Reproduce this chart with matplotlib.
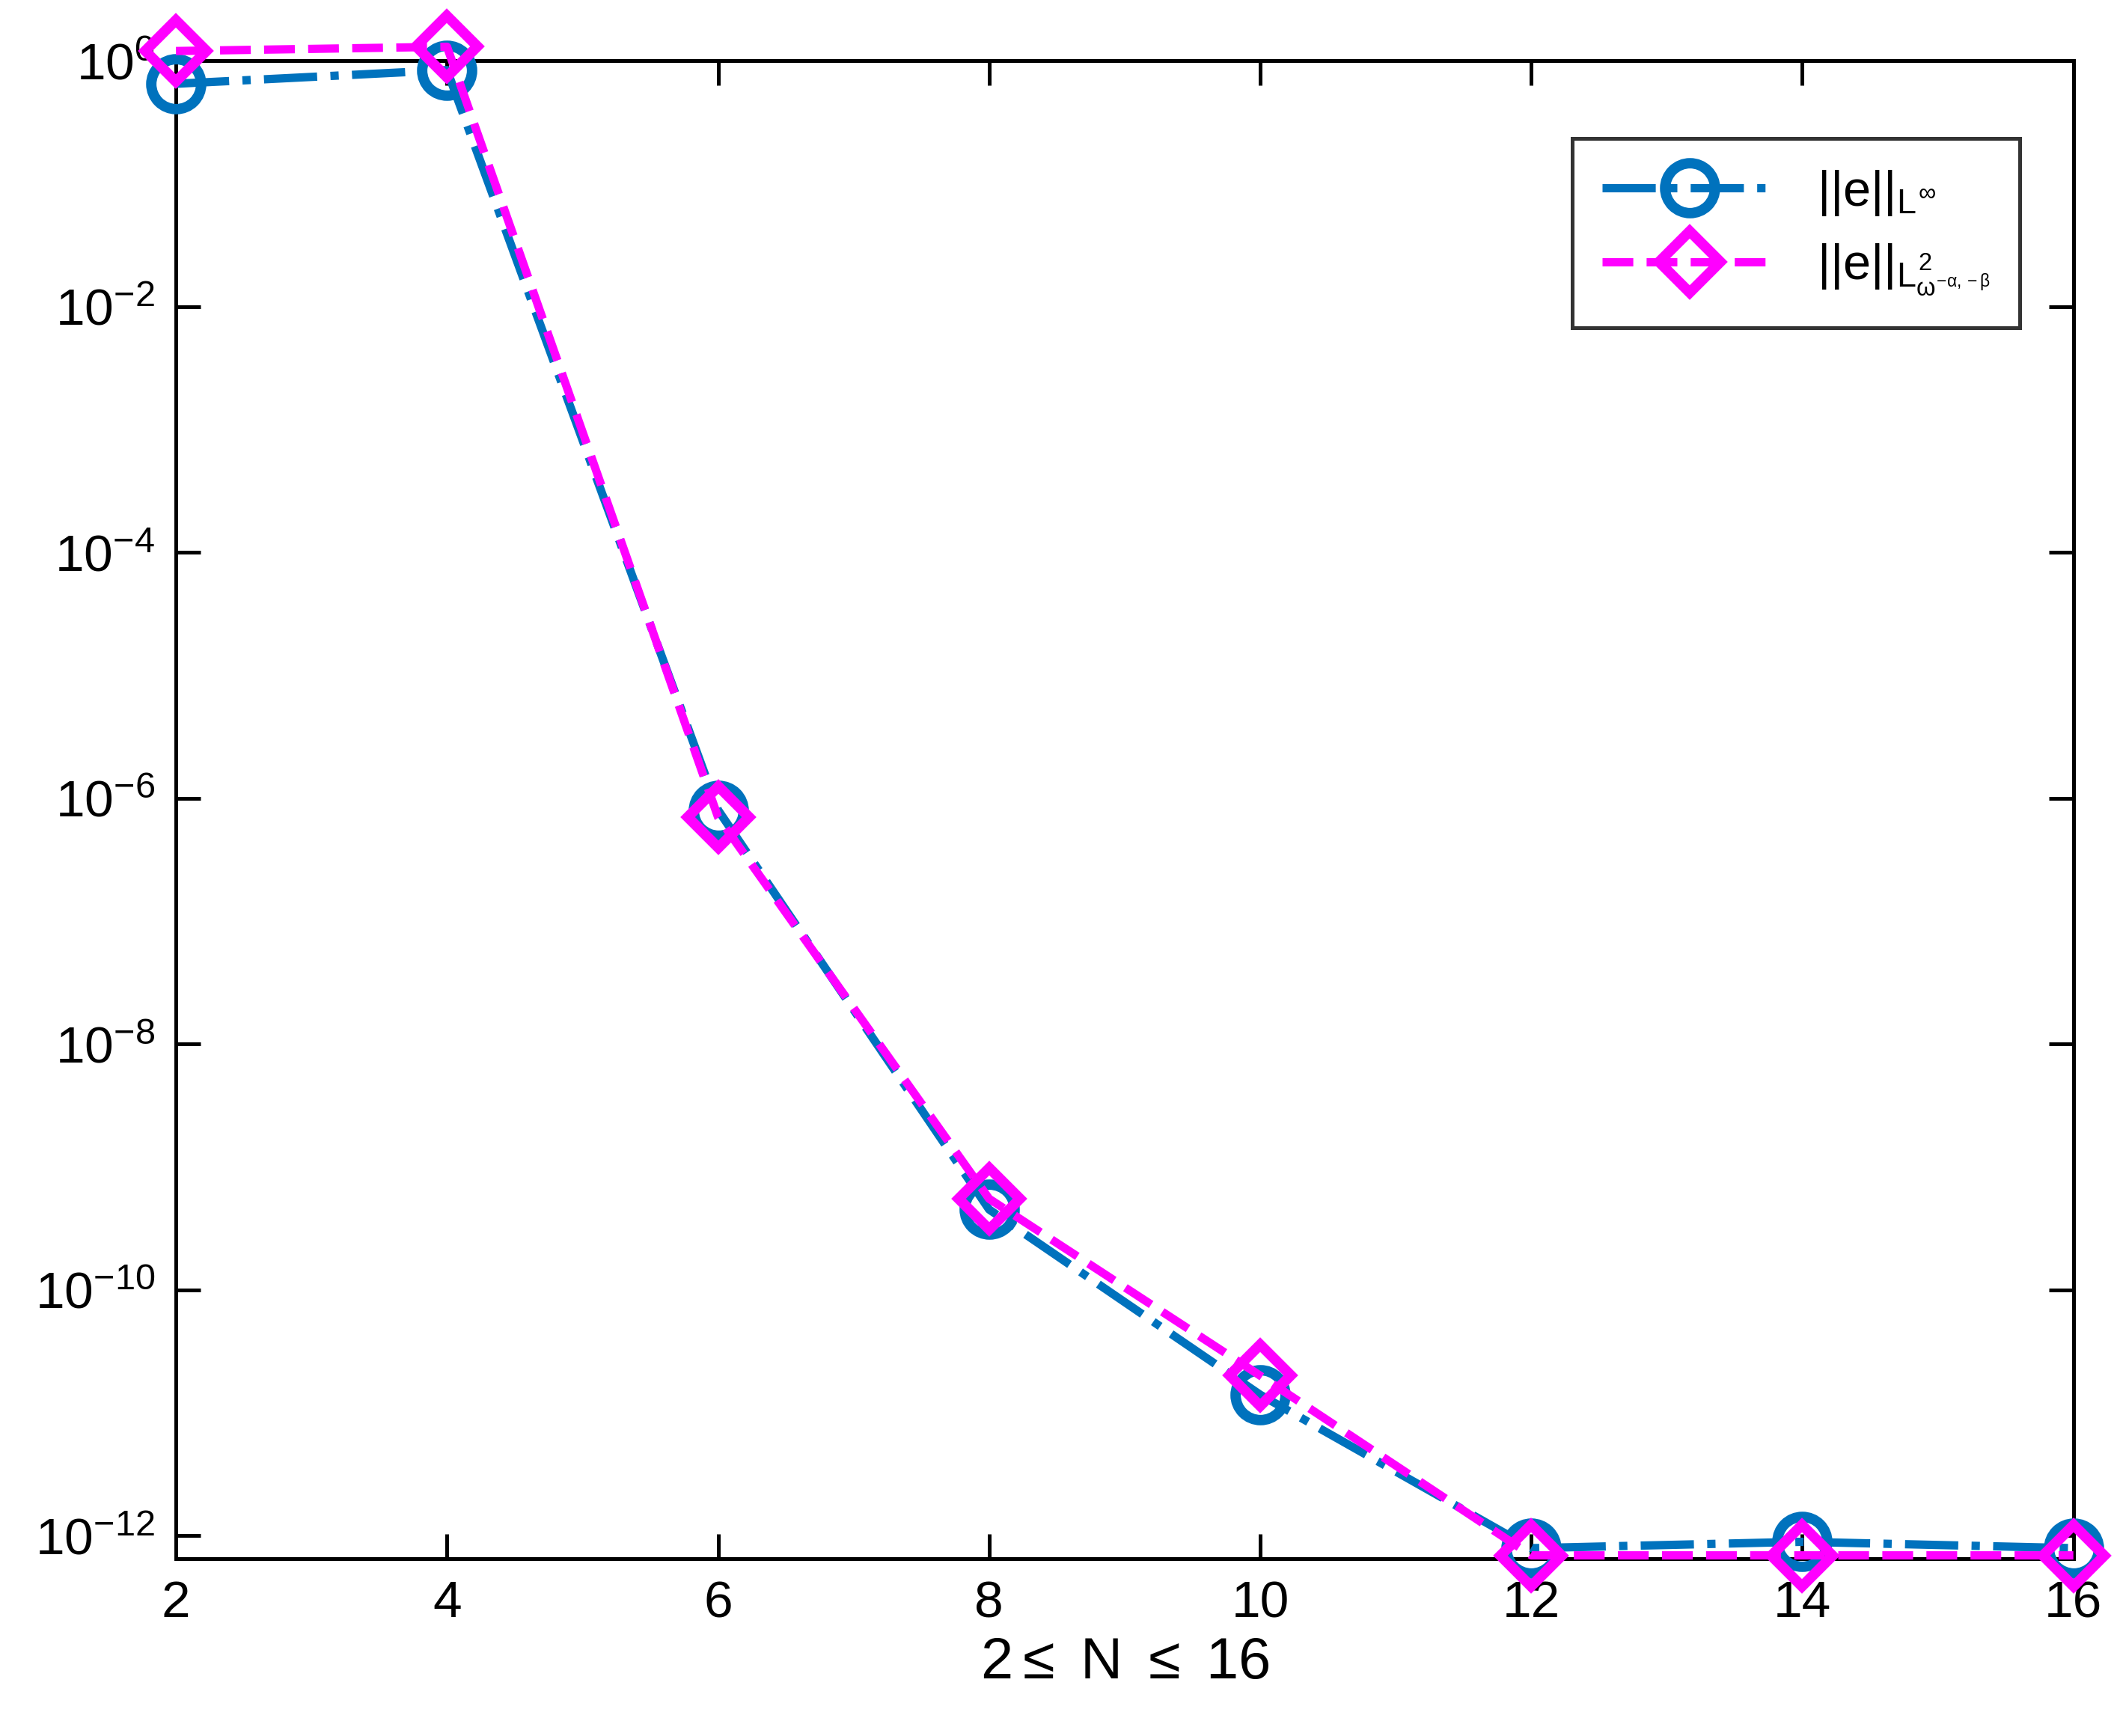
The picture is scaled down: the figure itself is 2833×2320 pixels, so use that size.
import numpy as np
import matplotlib
matplotlib.use("Agg")
import matplotlib.pyplot as plt

N = [2, 4, 6, 8, 10, 12, 14, 16]
err_inf = [0.65, 0.84, 8.0e-7, 4.5e-10, 1.4e-11, 7.9e-13, 8.9e-13, 7.9e-13]
err_l2 = [1.2, 1.3, 7.0e-7, 5.5e-10, 2.0e-11, 6.9e-13, 6.9e-13, 6.9e-13]

plt.rcParams["font.family"] = ["Liberation Sans", "DejaVu Sans"]
plt.rcParams["mathtext.fontset"] = "custom"
plt.rcParams["mathtext.rm"] = "Liberation Sans"
plt.rcParams["mathtext.it"] = "Liberation Sans"
plt.rcParams["axes.unicode_minus"] = False

fig = plt.figure(figsize=(14.165, 11.6), dpi=200)
ax = fig.add_axes([0.083, 0.102, 0.895, 0.863])
ax.semilogy(N, err_inf, "-.", color="#0072BD", lw=4, marker="o", ms=24,
            mfc="none", mew=5, clip_on=False, zorder=5, label=r"$||\mathrm{e}||_{L^\infty}$")
ax.semilogy(N, err_l2, "--", color="#FF00FF", lw=4, marker="D", ms=21,
            mfc="none", mew=5, clip_on=False, zorder=6,
            label=r"$||\mathrm{e}||_{L^2_{\omega^{-\alpha,-\beta}}}$")
ax.set_xlim(2, 16)
ax.set_ylim(10**-12.19, 1)
ax.set_xticks(N)
ax.set_yticks([10.0**k for k in range(0, -13, -2)])
ax.minorticks_off()
ax.tick_params(direction="in", length=12, width=1.8, labelsize=25, pad=10,
               top=True, right=True)
for s in ax.spines.values():
    s.set_linewidth(1.8)
ax.set_xlabel(r"2$\leq$ N $\leq$ 16", fontsize=28, labelpad=4)
leg = ax.legend(loc="upper right", fontsize=24, fancybox=False, edgecolor="black",
                handlelength=3.5, borderpad=0.6, bbox_to_anchor=(0.985, 0.965))
leg.get_frame().set_linewidth(1.8)
fig.savefig("out.png", dpi=200)
